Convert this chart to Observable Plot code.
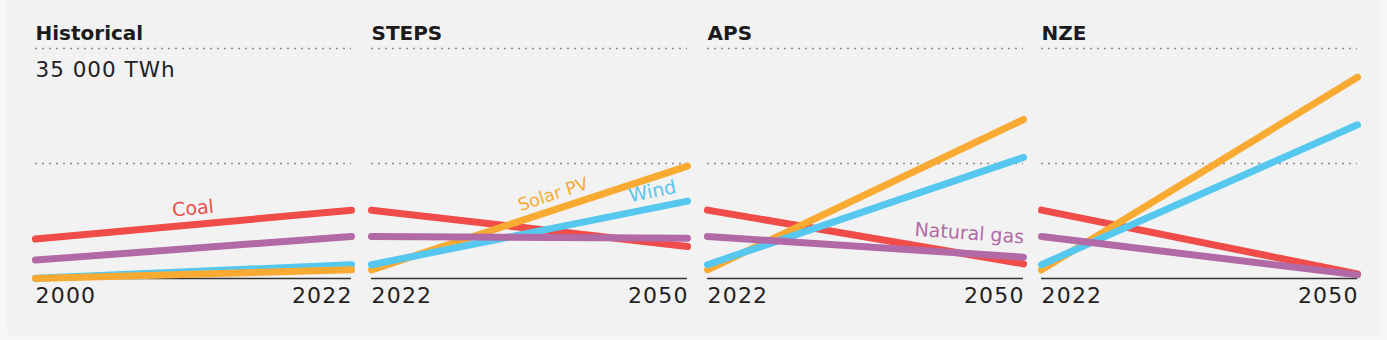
<!DOCTYPE html>
<html>
<head>
<meta charset="utf-8">
<script src="https://cdn.jsdelivr.net/npm/d3@7"></script>
<script src="https://cdn.jsdelivr.net/npm/@observablehq/plot@0.6"></script>
<style>
  html, body { margin: 0; padding: 0; background: #f7f7f7; }
  #box { position: absolute; left: 7px; top: 0; width: 1373px; height: 335px; background: #f2f2f2; }
  .panel { position: absolute; top: 0; }
  .panel svg { overflow: visible; }
</style>
</head>
<body>
<div id="box"></div>
<div id="charts"></div>
<script>
// ---- data ----
const panels = ["Historical", "STEPS", "APS", "NZE"];
const histYears = [2000, 2022];
const projYears = [2022, 2050];
const coal  = { Historical: [6000, 10400], STEPS: [10400, 4870], APS: [10400, 2230], NZE: [10400, 700] };
const gas   = { Historical: [2800, 6400],  STEPS: [6400, 6130],  APS: [6400, 3250],  NZE: [6400, 550] };
const wind  = { Historical: [30, 2100],    STEPS: [2100, 11770], APS: [2100, 18420], NZE: [2100, 23390] };
const solar = { Historical: [0, 1320],     STEPS: [1320, 17100], APS: [1320, 24200], NZE: [1320, 30640] };
const gridValues = [17500, 35000];
const unitLabel = "35 000 TWh";
const lineLabels = [
  { panel: "Historical", series: "Coal", text: "Coal", year: 2010.96, value: 10650, angle: -5.3 },
  { panel: "STEPS", series: "Solar PV", text: "Solar PV", year: 2038.1, value: 12785, angle: -18.2 },
  { panel: "STEPS", series: "Wind", text: "Wind", year: 2046.9, value: 13240, angle: -11.4 },
  { panel: "APS", series: "Natural gas", text: "Natural gas", year: 2045.2, value: 6850, angle: 4 }
];
const colors = { "Coal": "#ef4c4a", "Natural gas": "#b26aa7", "Wind": "#56c7ef", "Solar PV": "#f9aa33" };
const seriesData = { "Coal": coal, "Natural gas": gas, "Wind": wind, "Solar PV": solar };
const histOrder = ["Coal", "Natural gas", "Wind", "Solar PV"];
const projOrder = ["Coal", "Solar PV", "Wind", "Natural gas"];

const lefts = [35, 371, 707, 1041];
const plotW = 316;
const pad = 10;
const font = "'DejaVu Sans', sans-serif";

const container = document.getElementById("charts");
panels.forEach((p, i) => {
  const years = p === "Historical" ? histYears : projYears;
  const order = p === "Historical" ? histOrder : projOrder;
  const rows = [];
  order.forEach(s => {
    seriesData[s][p].forEach((v, k) => rows.push({ series: s, year: years[k], value: v }));
  });
  const marks = [
    Plot.ruleY(gridValues, { stroke: "#8a8a8a", strokeWidth: 1.5, strokeDasharray: "2 5" }),
    Plot.ruleY([0], { stroke: "#333", strokeWidth: 1.5 }),
    Plot.text([p], { frameAnchor: "top-left", dy: -8.5, lineAnchor: "bottom", text: d => d,
      fontSize: 20, fontWeight: 700, fill: "#1b1b1b" }),
    Plot.text([years[0]], { x: d => d, y: 0, text: d => String(d), textAnchor: "start", lineAnchor: "bottom",
      dy: 24, fontSize: 22, fill: "#222" }),
    Plot.text([years[1]], { x: d => d, y: 0, text: d => String(d), textAnchor: "end", lineAnchor: "bottom",
      dx: 1.2, dy: 24, fontSize: 22, fill: "#222" })
  ];
  if (i === 0) {
    marks.push(Plot.text([35000], { x: years[0], y: d => d, text: () => unitLabel, textAnchor: "start",
      lineAnchor: "bottom", dy: 28, fontSize: 21.5, fill: "#222" }));
  }
  marks.push(Plot.line(rows, { x: "year", y: "value", z: "series", stroke: d => colors[d.series],
    strokeWidth: 7, strokeLinecap: "round" }));
  lineLabels.filter(l => l.panel === p).forEach(l => {
    marks.push(Plot.text([l], { x: "year", y: "value", text: "text", rotate: l.angle,
      fill: colors[l.series], fontSize: l.text === "Solar PV" ? 17.5 : 19, textAnchor: "middle", lineAnchor: "middle" }));
  });
  const chart = Plot.plot({
    width: plotW + 2 * pad,
    height: 320,
    marginLeft: pad, marginRight: pad, marginTop: 48, marginBottom: 42,
    x: { domain: years, axis: null },
    y: { domain: [0, 35000], axis: null },
    style: { background: "transparent", fontFamily: font, overflow: "visible" },
    marks
  });
  d3.select(chart).selectAll("text").each(function () {
    const t = this.textContent;
    if (/^\d{4}$/.test(t)) this.style.letterSpacing = "1.2px";
    else if (t === unitLabel) this.style.letterSpacing = "1px";
  });
  const div = document.createElement("div");
  div.className = "panel";
  div.style.left = (lefts[i] - pad) + "px";
  div.appendChild(chart);
  container.appendChild(div);
});
</script>
</body>
</html>
